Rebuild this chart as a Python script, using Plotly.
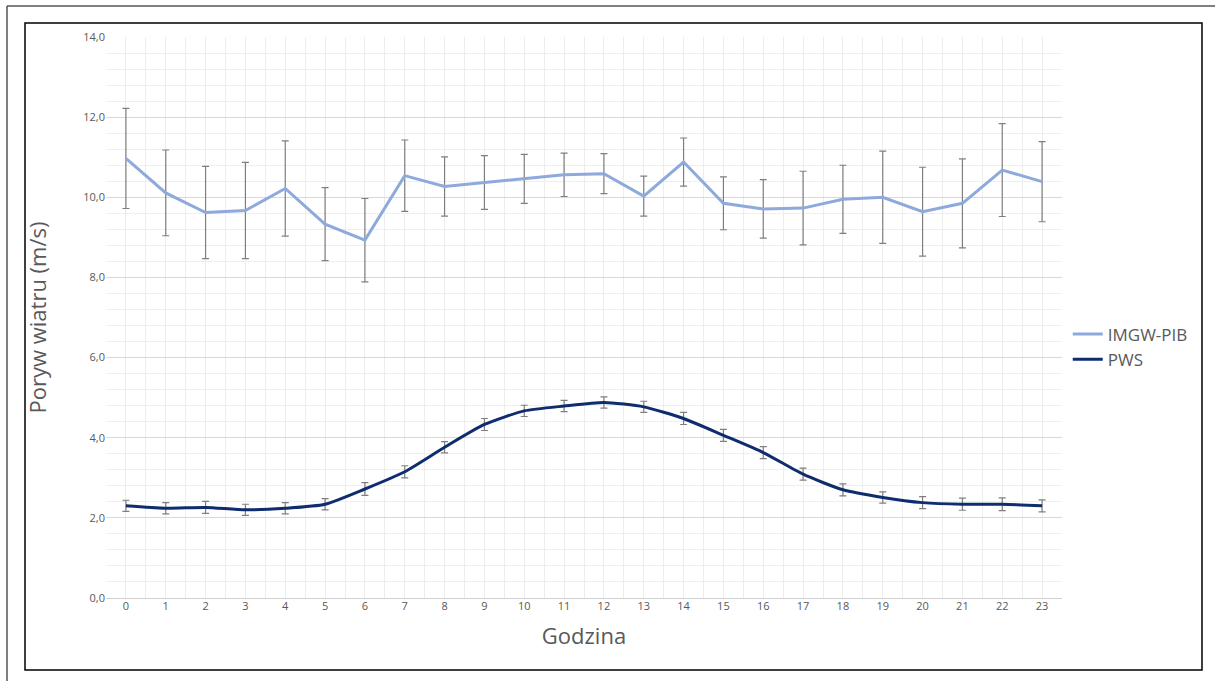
import plotly.graph_objects as go

hours = list(range(24))

imgw_mean = [10.97, 10.11, 9.62, 9.67, 10.22, 9.33, 8.93, 10.54, 10.27, 10.37, 10.46, 10.56,
             10.59, 10.03, 10.88, 9.85, 9.71, 9.73, 9.95, 10.00, 9.64, 9.85, 10.68, 10.39]
imgw_err = [1.25, 1.07, 1.15, 1.20, 1.19, 0.91, 1.04, 0.89, 0.74, 0.67, 0.61, 0.54,
            0.50, 0.50, 0.60, 0.66, 0.73, 0.92, 0.85, 1.15, 1.11, 1.11, 1.16, 1.00]

pws_mean = [2.30, 2.24, 2.26, 2.20, 2.24, 2.34, 2.72, 3.15, 3.76, 4.33, 4.67, 4.79,
            4.88, 4.77, 4.48, 4.06, 3.63, 3.09, 2.70, 2.51, 2.38, 2.34, 2.34, 2.30]
pws_err = [0.14, 0.14, 0.15, 0.14, 0.14, 0.14, 0.16, 0.15, 0.14, 0.15, 0.14, 0.14,
           0.14, 0.14, 0.15, 0.15, 0.15, 0.15, 0.15, 0.14, 0.15, 0.15, 0.16, 0.15]

y_ticks = [0, 2, 4, 6, 8, 10, 12, 14]

FONT = "Open Sans, Noto Sans, sans-serif"
TXT = "#595959"

fig = go.Figure()
fig.add_trace(go.Scatter(
    x=hours, y=imgw_mean, mode="lines", name="IMGW-PIB",
    line=dict(color="#8EA9DB", width=3),
    error_y=dict(type="data", array=imgw_err, visible=True, color="#7F7F7F", thickness=1.2, width=3.5),
))
fig.add_trace(go.Scatter(
    x=hours, y=pws_mean, mode="lines", name="PWS",
    line=dict(color="#0E2C6E", width=3, shape="spline", smoothing=0.6),
    error_y=dict(type="data", array=pws_err, visible=True, color="#7F7F7F", thickness=1.2, width=3.5),
))

# frame geometry (pixels -> paper)
L, R, T, B = 106, 1062, 37, 598
W, H = R - L, B - T
def px(x):
    return (x - L) / W
def py(y):
    return (B - y) / H

shapes = [
    dict(type="rect", xref="paper", yref="paper", x0=px(25), x1=px(1202), y0=py(670), y1=py(23),
         line=dict(color="#000000", width=1.5), layer="below"),
    dict(type="line", xref="paper", yref="paper", x0=px(7), x1=px(1215), y0=py(6), y1=py(6),
         line=dict(color="#555555", width=1.5)),
    dict(type="line", xref="paper", yref="paper", x0=px(7), x1=px(7), y0=py(6), y1=py(681),
         line=dict(color="#555555", width=1.5)),
]

fig.update_layout(
    width=1215, height=681,
    margin=dict(l=L, r=1215 - R, t=T, b=681 - B),
    paper_bgcolor="white", plot_bgcolor="white",
    separators=", ",
    font=dict(family=FONT, color=TXT),
    showlegend=True,
    legend=dict(x=1.006, y=py(347), xanchor="left", yanchor="middle",
                font=dict(size=17, color=TXT), tracegroupgap=4, itemwidth=30),
    shapes=shapes,
)

fig.update_xaxes(
    range=[-0.5, 23.5], tickmode="linear", tick0=0, dtick=1,
    showgrid=True, gridcolor="#EDEDED", gridwidth=1,
    minor=dict(dtick=0.5, tick0=0.5, showgrid=True, gridcolor="#EDEDED", gridwidth=1),
    zeroline=False, showline=False, ticks="",
    tickfont=dict(size=11, color=TXT),
    title=dict(text="Godzina", font=dict(size=22, color=TXT), standoff=16),
)
fig.update_yaxes(
    range=[0, 14], tickmode="array", tickvals=y_ticks, tickformat=".1f",
    showgrid=True, gridcolor="#D9D9D9", gridwidth=1,
    minor=dict(dtick=0.4, tick0=0, showgrid=True, gridcolor="#EFEFEF", gridwidth=1),
    zeroline=True, zerolinecolor="#D0D0D0", zerolinewidth=1,
    showline=False, ticks="",
    tickfont=dict(size=11, color=TXT),
    title=dict(text="Poryw wiatru (m/s)", font=dict(size=22, color=TXT), standoff=30),
)

fig.write_html("out.html")
